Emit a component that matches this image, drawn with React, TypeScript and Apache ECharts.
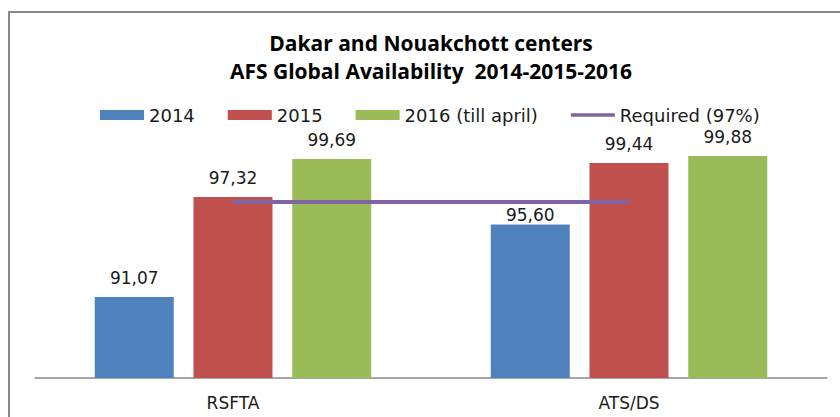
import React, { useEffect, useRef } from "react";
import * as echarts from "echarts";

const categories = ["RSFTA", "ATS/DS"];
const values2014 = [91.07, 95.6];
const values2015 = [97.32, 99.44];
const values2016 = [99.69, 99.88];
const required = [97, 97];
const seriesNames = ["2014", "2015", "2016 (till april)", "Required (97%)"];
const titleLines = ["Dakar and Nouakchott centers", "AFS Global Availability  2014-2015-2016"];

const LABEL_FONT = "DejaVu Sans";
const TITLE_FONT = "Open Sans";

export default function App() {
  const ref = useRef<HTMLDivElement>(null);
  useEffect(() => {
    const chart = echarts.init(ref.current!, null, { renderer: "svg" });
    const fmt = (p: any) => Number(p.value).toFixed(2).replace(".", ",");
    const colors = ["#4f81bd", "#c0504d", "#9bbb59", "#8064a2"];
    // label distance per series / category (styling only)
    const labelDist = [
      [10, 1],
      [10, 10],
      [10, 10],
    ];
    const bars = [values2014, values2015, values2016].map((d, i) => ({
      name: seriesNames[i],
      type: "bar",
      data: d.map((v, j) => ({ value: v, label: { distance: labelDist[i][j] } })),
      barWidth: 79,
      barGap: "25%",
      itemStyle: { color: colors[i] },
      label: {
        show: true,
        position: "top",
        formatter: fmt,
        fontFamily: LABEL_FONT,
        fontSize: 17,
        color: "#1a1a1a",
      },
    }));
    const titleTops = [32, 60];
    chart.setOption({
      animation: false,
      backgroundColor: "#ffffff",
      title: titleLines.map((t, i) => ({
        text: t,
        left: 431,
        textAlign: "center",
        top: titleTops[i],
        padding: 0,
        textStyle: {
          fontFamily: TITLE_FONT,
          fontWeight: "bold",
          fontSize: 21,
          lineHeight: 21,
          color: "#000",
        },
      })),
      legend: {
        left: 95,
        top: 101,
        itemWidth: 44,
        itemHeight: 10,
        itemGap: 33,
        textStyle: { fontFamily: LABEL_FONT, fontSize: 18, color: "#1a1a1a" },
        data: seriesNames.map((n, i) =>
          i < 3
            ? { name: n, icon: "rect" }
            : { name: n, icon: "path://M0,0L49,0L49,4L0,4Z", itemStyle: { color: colors[3] } }
        ),
      },
      grid: { left: 35, right: 13, top: 154, bottom: 39 },
      xAxis: {
        type: "category",
        data: categories,
        axisTick: { show: false },
        axisLine: { lineStyle: { color: "#8a8a8a", width: 1.5 } },
        axisLabel: { margin: 16, fontFamily: LABEL_FONT, fontSize: 17, color: "#1a1a1a" },
      },
      yAxis: {
        type: "value",
        min: 86,
        max: 100,
        show: false,
        splitLine: { show: false },
      },
      graphic: [
        {
          type: "rect",
          shape: { x: 9, y: 12, width: 860, height: 440 },
          style: { fill: "none", stroke: "#888888", lineWidth: 2 },
          silent: true,
        },
      ],
      series: [
        ...bars,
        {
          name: seriesNames[3],
          type: "line",
          data: required,
          symbol: "none",
          lineStyle: { color: colors[3], width: 4 },
          itemStyle: { color: colors[3] },
          z: 5,
        },
      ],
    });
    return () => chart.dispose();
  }, []);
  return (
    <div
      ref={ref}
      style={{ position: "absolute", left: 0, top: 0, width: 840, height: 417 }}
    />
  );
}
